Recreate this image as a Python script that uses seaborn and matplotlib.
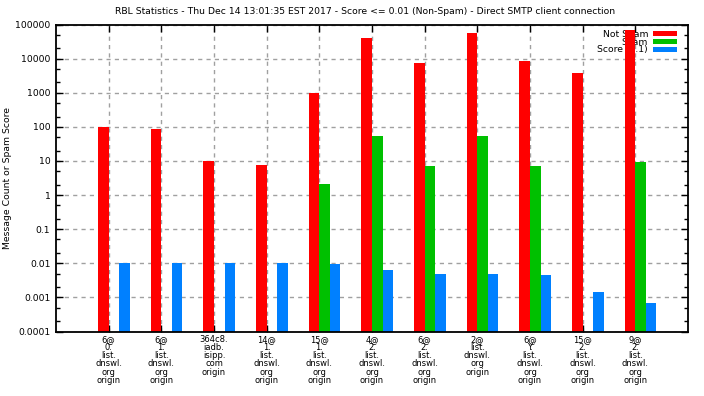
import numpy as np
import pandas as pd
import matplotlib
matplotlib.use("Agg")
import matplotlib.pyplot as plt
import seaborn as sns
from matplotlib.ticker import LogLocator, FixedFormatter, NullFormatter
from matplotlib.patches import Patch

# DATA
hosts = [
    "6@\n0.\nlist.\ndnswl.\norg\norigin",
    "6@\n1.\nlist.\ndnswl.\norg\norigin",
    "364c8.\niadb.\nisipp.\ncom\norigin",
    "14@\n1.\nlist.\ndnswl.\norg\norigin",
    "15@\n1.\nlist.\ndnswl.\norg\norigin",
    "4@\n2.\nlist.\ndnswl.\norg\norigin",
    "6@\n2.\nlist.\ndnswl.\norg\norigin",
    "2@\nlist.\ndnswl.\norg\norigin",
    "6@\nY.\nlist.\ndnswl.\norg\norigin",
    "15@\n2.\nlist.\ndnswl.\norg\norigin",
    "9@\n2.\nlist.\ndnswl.\norg\norigin",
]
not_spam = [100, 88, 10, 7.6, 1000, 40000, 7400, 56000, 8500, 3800, 69000]
spam = [np.nan, np.nan, np.nan, np.nan, 2.1, 53, 7.1, 53, 7.2, np.nan, 9.4]
score = [0.01, 0.01, 0.01, 0.01, 0.0098, 0.0063, 0.0048, 0.0048, 0.0046, 0.00147, 0.0007]

series_names = ["Not Spam", "Spam", "Score (0.1)"]
colors = ["#ff0000", "#00c000", "#0080ff"]

yticks = [1e-4, 1e-3, 1e-2, 1e-1, 1, 10, 100, 1000, 10000, 100000]
ytick_labels = ["0.0001", "0.001", "0.01", "0.1", "1", "10", "100", "1000", "10000", "100000"]

# LONG FORMAT TABLE
df = pd.DataFrame({
    "host": hosts * 3,
    "series": [series_names[0]] * len(hosts) + [series_names[1]] * len(hosts) + [series_names[2]] * len(hosts),
    "value": not_spam + spam + score,
})

FS = 6.7
plt.rcParams["font.family"] = ["DejaVu Sans"]
plt.rcParams["font.size"] = FS

fig = plt.figure(figsize=(7.04, 3.96), dpi=100)
ax = fig.add_axes([56 / 704, 1 - 331.5 / 396, 632 / 704, 307 / 396])
ax.set_yscale("log")

sns.barplot(data=df, x="host", y="value", hue="series", hue_order=series_names,
            palette=colors, width=0.6, saturation=1, linewidth=0,
            legend=False, ax=ax, zorder=2)

# gnuplot puts the group slightly right of the tick
for p in ax.patches:
    p.set_x(p.get_x() + 0.1)

ax.set_xlim(-1, 11)
ax.set_ylim(1e-4, 1e5)
ax.set_yticks(yticks)
ax.yaxis.set_major_formatter(FixedFormatter(ytick_labels))
ax.yaxis.set_minor_locator(LogLocator(base=10, subs=(2.0, 5.0)))
ax.yaxis.set_minor_formatter(NullFormatter())

ax.set_xticks(range(len(hosts)))
ax.set_xticklabels(hosts, linespacing=0.88, va="top", fontsize=6)

ax.grid(True, which="major", color="#a0a0a0", linestyle=(0, (3, 3)), linewidth=1)
ax.set_axisbelow(True)
ax.tick_params(which="major", direction="in", top=True, right=True, length=5, width=1)
ax.tick_params(axis="x", pad=2.5)
ax.tick_params(axis="y", pad=4, labelsize=FS)
ax.tick_params(which="minor", direction="in", right=True, length=3, width=1)
for s in ax.spines.values():
    s.set_linewidth(1.3)
    s.set_color("black")

ax.set_xlabel("")
ax.set_ylabel("Message Count or Spam Score", fontsize=FS)
ax.yaxis.set_label_coords(-(56 - 12) / 632, 0.5)
fig.text(365 / 704, 1 - 12 / 396, "RBL Statistics - Thu Dec 14 13:01:35 EST 2017 - Score <= 0.01 (Non-Spam) - Direct SMTP client connection",
         ha="center", va="center", fontsize=FS)

handles = [Patch(facecolor=c, edgecolor="none") for c in colors]
leg = ax.legend(handles, series_names, loc="upper right", frameon=False, markerfirst=False,
                fontsize=FS, handlelength=2.6, handleheight=0.45, labelspacing=-0.15,
                handletextpad=0.5, borderaxespad=0.0, bbox_to_anchor=(679 / 688 + 0.0015, 1 - 2 / 307))
for t in leg.get_texts():
    t.set_ha("right")
leg.set_zorder(1)

fig.savefig("out.png", dpi=100)
